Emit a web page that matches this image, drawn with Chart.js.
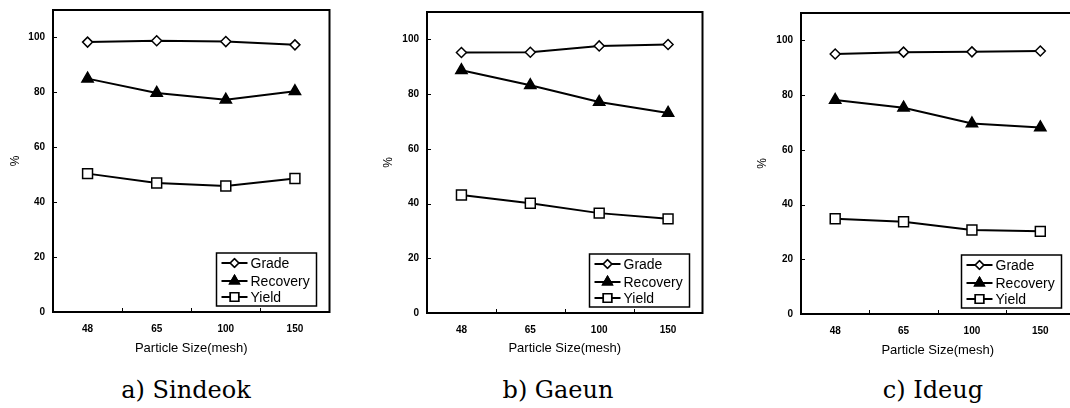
<!DOCTYPE html>
<html>
<head>
<meta charset="utf-8">
<script src="https://cdn.jsdelivr.net/npm/chart.js@4.4.1/dist/chart.umd.min.js"></script>
<style>
  html, body { margin: 0; padding: 0; background: #fff; overflow: hidden; }
  body { width: 1070px; height: 408px; position: relative; }
  canvas { position: absolute; top: 0; display: block; }
  .caption {
    position: absolute; top: 374px; width: 240px; margin-left: -120px;
    text-align: center; font-family: "DejaVu Serif", serif; font-size: 24px;
    line-height: 32px; color: #000;
  }
</style>
</head>
<body>
<!-- the x scale keeps ~8px free on the right for half of the last label, so the canvases are that much wider -->
<canvas id="chartA" width="330" height="360" style="left:8px"></canvas>
<canvas id="chartB" width="330" height="360" style="left:381px"></canvas>
<canvas id="chartC" width="328" height="360" style="left:755px"></canvas>
<div class="caption" style="left:186px">a) Sindeok</div>
<div class="caption" style="left:558px">b) Gaeun</div>
<div class="caption" style="left:933px">c) Ideug</div>

<script>
const sizes = ['48', '65', '100', '150'];
const seriesNames = ['Grade', 'Recovery', 'Yield'];

const sindeokGrade = [98.3, 98.8, 98.5, 97.3];
const sindeokRecovery = [85.0, 79.8, 77.3, 80.4];
const sindeokYield = [50.4, 47.0, 45.9, 48.6];

const gaeunGrade = [95.2, 95.3, 97.6, 98.1];
const gaeunRecovery = [88.7, 83.2, 77.1, 73.1];
const gaeunYield = [43.1, 40.1, 36.5, 34.4];

const ideugGrade = [95.0, 95.7, 95.8, 96.1];
const ideugRecovery = [78.2, 75.4, 69.6, 68.2];
const ideugYield = [34.8, 33.7, 30.7, 30.2];

const markers = [
    { style: 'rectRot', radius: 5, fill: '#fff' },
    { style: 'triangle', radius: 6.5, fill: '#000' },
    { style: 'rect', radius: 7, fill: '#fff' },
];

const tickFont = { family: '"Liberation Sans", Arial, sans-serif', size: 10, weight: 'bold' };

// frame around the plot, small inner ticks, boxed legend in the lower right corner
const framePlugin = {
    id: 'frame',
    afterDraw(chart) {
        const { ctx, chartArea: a } = chart;
        const xs = chart.scales.x, ys = chart.scales.y;
        ctx.save();
        ctx.strokeStyle = '#000';
        ctx.lineWidth = 2;
        ctx.strokeRect(a.left, a.top, a.right - a.left, a.bottom - a.top);

        ctx.lineWidth = 1;
        ctx.beginPath();
        ys.ticks.forEach(t => {
            const y = Math.round(ys.getPixelForValue(t.value)) + 0.5;
            ctx.moveTo(a.left, y);
            ctx.lineTo(a.left + 4, y);
        });
        for (let i = 1; i < sizes.length; i++) {
            const x = Math.round((xs.getPixelForValue(i - 1) + xs.getPixelForValue(i)) / 2) + 0.5;
            ctx.moveTo(x, a.bottom);
            ctx.lineTo(x, a.bottom - 4);
        }
        ctx.stroke();

        const w = 100, h = 53;
        const bx = a.right - 13 - w, by = a.bottom - 6 - h;
        ctx.fillStyle = '#fff';
        ctx.fillRect(bx, by, w, h);
        ctx.lineWidth = 1.5;
        ctx.strokeRect(bx, by, w, h);

        const rows = [10, 28, 44];
        ctx.font = '14px "Liberation Sans", Arial, sans-serif';
        ctx.textBaseline = 'middle';
        rows.forEach((dy, i) => {
            const y = by + dy;
            ctx.lineWidth = 2;
            ctx.beginPath();
            ctx.moveTo(bx + 5, y);
            ctx.lineTo(bx + 31, y);
            ctx.stroke();
            const m = markers[i];
            ctx.fillStyle = m.fill;
            ctx.lineWidth = 1.5;
            Chart.helpers.drawPoint(ctx, { pointStyle: m.style, radius: m.radius * 0.85, borderWidth: 1.5 }, bx + 18, y);
            ctx.fill();
            ctx.stroke();
            ctx.fillStyle = '#000';
            ctx.fillText(seriesNames[i], bx + 34, y + 1);
        });
        ctx.restore();
    }
};

function makeChart(id, values, padTop, xHeight, titlePad) {
    const datasets = values.map((data, i) => ({
        label: seriesNames[i],
        data,
        borderColor: '#000',
        borderWidth: 2,
        pointStyle: markers[i].style,
        pointRadius: markers[i].radius,
        pointBackgroundColor: markers[i].fill,
        pointBorderColor: '#000',
        pointBorderWidth: 1.5,
        tension: 0,
    }));

    new Chart(document.getElementById(id), {
        type: 'line',
        data: { labels: sizes, datasets },
        options: {
            responsive: false,
            animation: false,
            devicePixelRatio: 1,
            layout: { padding: { top: padTop, left: 0, right: 0, bottom: 0 } },
            plugins: {
                legend: { display: false },
                tooltip: { enabled: false },
            },
            scales: {
                x: {
                    offset: true,
                    grid: { display: false, drawTicks: false },
                    border: { display: false },
                    ticks: { padding: 11, color: '#000', font: tickFont },
                    title: {
                        display: true,
                        text: 'Particle Size(mesh)',
                        color: '#000',
                        padding: { top: 0, bottom: titlePad },
                        font: { family: '"Liberation Sans", Arial, sans-serif', size: 13 },
                    },
                    afterFit: scale => { scale.height = xHeight; },
                },
                y: {
                    min: 0,
                    max: 110,
                    grid: { display: false, drawTicks: false },
                    border: { display: false },
                    ticks: { stepSize: 20, padding: 8, color: '#000', font: tickFont },
                    afterBuildTicks: scale => {
                        scale.ticks = scale.ticks.filter(t => t.value <= 100);
                    },
                    title: {
                        display: true,
                        text: '%',
                        color: '#000',
                        padding: { top: 0, bottom: 0 },
                        font: { family: '"Liberation Sans", Arial, sans-serif', size: 12 },
                    },
                    afterFit: scale => {
                        scale.width = id === 'chartA' ? 45 : 46;
                        scale.paddingTop = 0;
                        scale.paddingBottom = 0;
                    },
                },
            },
        },
        plugins: [framePlugin],
    });
}

makeChart('chartA', [sindeokGrade, sindeokRecovery, sindeokYield], 10, 48, 4);
makeChart('chartB', [gaeunGrade, gaeunRecovery, gaeunYield], 12, 47, 4);
makeChart('chartC', [ideugGrade, ideugRecovery, ideugYield], 13, 46, 2);
</script>
</body>
</html>
